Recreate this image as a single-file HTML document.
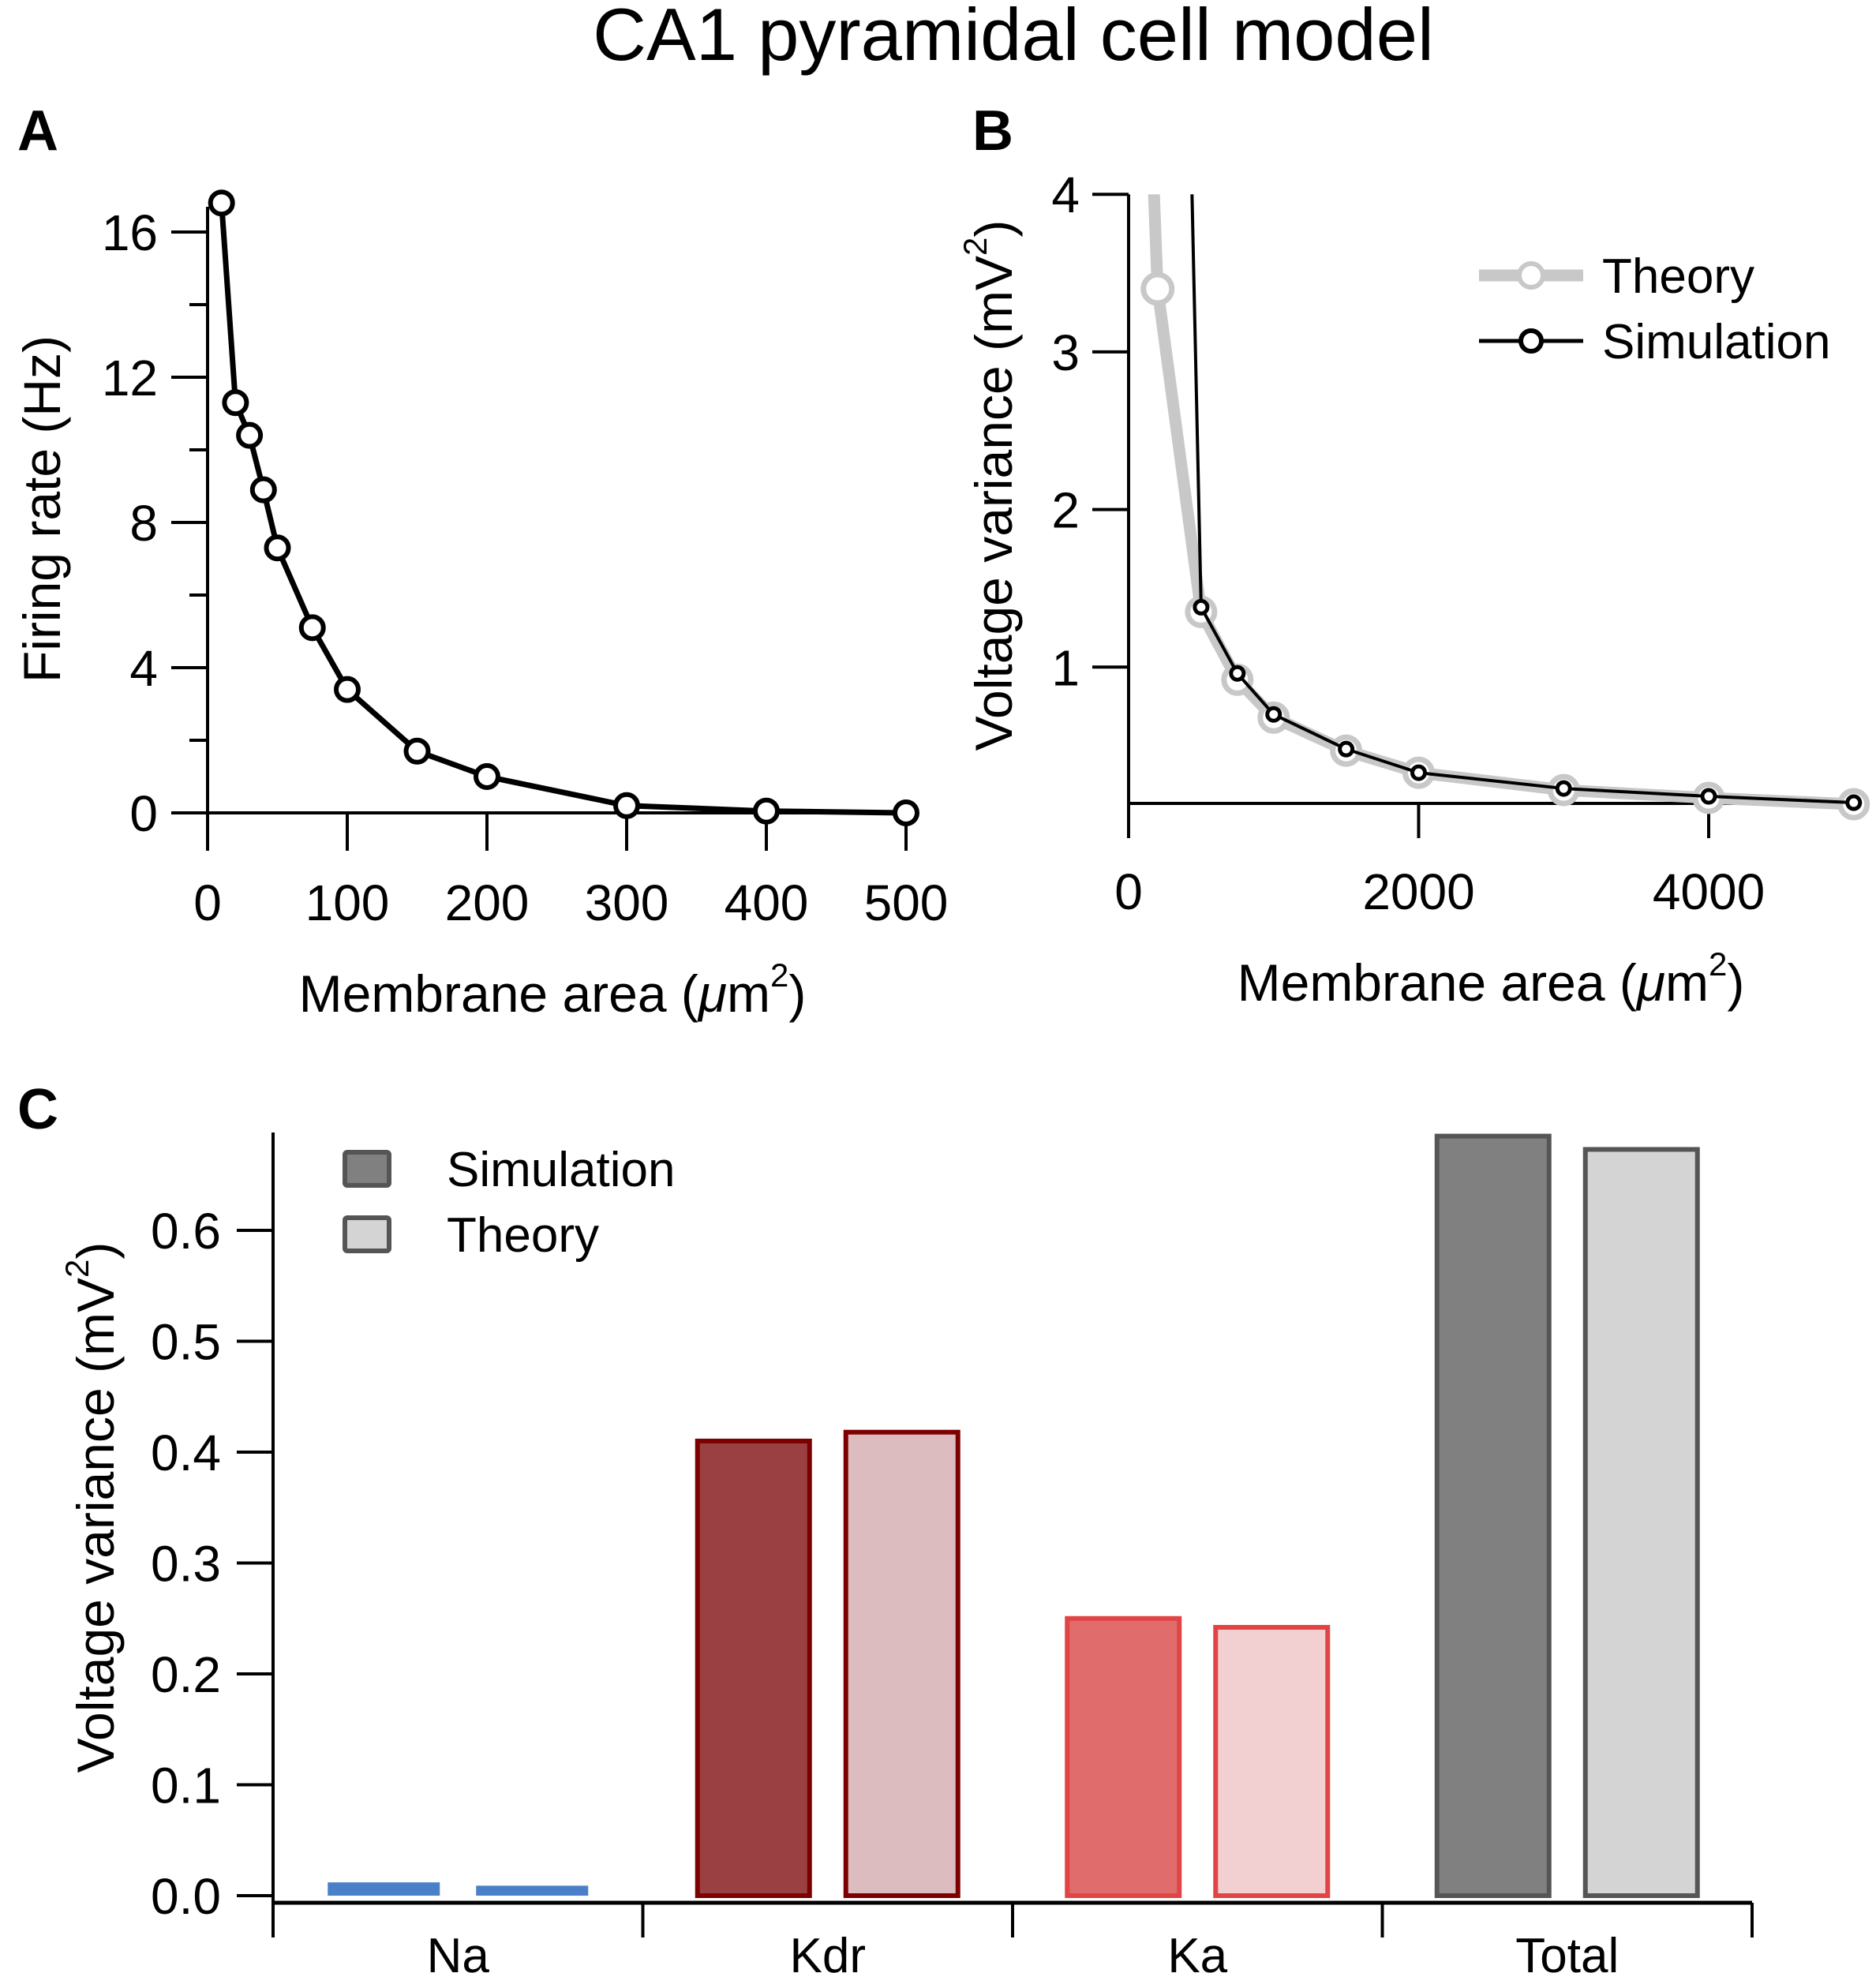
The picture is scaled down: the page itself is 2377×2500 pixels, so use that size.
<!DOCTYPE html>
<html><head><meta charset="utf-8"><style>
html,body{margin:0;padding:0;background:#fff;}
svg{display:block;font-family:"Liberation Sans",sans-serif;}
</style></head><body>
<svg id="fig" width="2377" height="2500" viewBox="0 0 2377 2500">
<text x="1284" y="76" font-size="94" text-anchor="middle">CA1 pyramidal cell model</text>
<text x="22" y="190" font-size="72" font-weight="bold">A</text>
<text x="1232" y="190" font-size="72" font-weight="bold">B</text>
<text x="22" y="1430" font-size="72" font-weight="bold">C</text>
<g id="pa"></g>
<g id="pb"></g>
<g id="pc"></g>
</svg>
<script>
// Panel A data
const aX = [10,20,30,40,50,75,100,150,200,300,400,500];
const aY = [16.8,11.3,10.4,8.9,7.3,5.1,3.4,1.7,1.0,0.2,0.05,0.0];
const aXTicks = [0,100,200,300,400,500];
const aYTicks = [0,4,8,12,16];
const aYMinor = [2,6,10,14];
// Panel B data
const bTheoryX = [150,200,500,750,1000,1500,2000,3000,4000,5000];
const bTheoryY = [4.6,3.4,1.35,0.92,0.68,0.47,0.33,0.22,0.17,0.13];
const bSimX = [430,500,750,1000,1500,2000,3000,4000,5000];
const bSimY = [4.3,1.38,0.96,0.70,0.48,0.33,0.23,0.18,0.14];
const bXTicks = [0,2000,4000];
const bYTicks = [1,2,3,4];
// Panel C data
const cCats = ["Na","Kdr","Ka","Total"];
const cSim = [0.012,0.41,0.25,0.685];
const cTheory = [0.009,0.418,0.242,0.673];
const cYTicks = [0.0,0.1,0.2,0.3,0.4,0.5,0.6];
const cYTickLabels = ["0.0","0.1","0.2","0.3","0.4","0.5","0.6"];

const NS="http://www.w3.org/2000/svg";
const TF=64, AF=66;
function mk(parent,tag,attrs,text){const e=document.createElementNS(NS,tag);for(const k in attrs)e.setAttribute(k,attrs[k]);if(text!==undefined)e.textContent=text;parent.appendChild(e);return e;}

// ---- Panel A ----
(function(){
const g=document.getElementById('pa');
const xs=v=>263+v*(1148-263)/500, ys=v=>1030-v*(1030-294)/16;
let e;
e=mk(g,'line',{x1:263,y1:262,x2:263,y2:1078,stroke:'#000','stroke-width':4});


e=mk(g,'line',{x1:217,y1:ys(0),x2:1148,y2:ys(0),stroke:'#000','stroke-width':4});


aYTicks.forEach(v=>{
 e=mk(g,'line',{x1:217,y1:ys(v),x2:263,y2:ys(v),stroke:'#000','stroke-width':4});
 
 
 e=mk(g,'text',{x:200,y:ys(v)+23,'font-size':TF,'text-anchor':'end'},String(v));
 
 
});
aYMinor.forEach(v=>{
 e=mk(g,'line',{x1:240,y1:ys(v),x2:263,y2:ys(v),stroke:'#000','stroke-width':4});
 
 
});
aXTicks.forEach(v=>{
 e=mk(g,'line',{x1:xs(v),y1:ys(0),x2:xs(v),y2:1078,stroke:'#000','stroke-width':4});
 
 
 e=mk(g,'text',{x:xs(v),y:1166,'font-size':TF,'text-anchor':'middle'},String(v));
 
 
});
e=mk(g,'text',{x:700,y:1282,'font-size':AF,'text-anchor':'middle'});
e.innerHTML='Membrane area (<tspan font-style="italic">μ</tspan>m<tspan dy="-32" font-size="42">2</tspan><tspan dy="32">)</tspan>';


e=mk(g,'text',{x:0,y:0,'font-size':AF,'text-anchor':'middle',transform:'translate(76,645) rotate(-90)'},'Firing rate (Hz)');


e=mk(g,'polyline',{points:aX.map((x,i)=>xs(x)+','+ys(aY[i])).join(' '),fill:'none',stroke:'#000','stroke-width':7,'stroke-linejoin':'round'});


aX.forEach((x,i)=>{
 e=mk(g,'circle',{cx:xs(x),cy:ys(aY[i]),r:14,fill:'#fff',stroke:'#000','stroke-width':6});
 
 
});
})();

// ---- Panel B ----
(function(){
const g=document.getElementById('pb');
const xs=v=>1430+v*(2165-1430)/4000, ys=v=>1045-v*199.7;
let e;
mk(g,'clipPath',{id:'bclip'}).appendChild(document.createElementNS(NS,'rect'));
const r=document.querySelector('#bclip rect');r.setAttribute('x',1380);r.setAttribute('y',ys(4));r.setAttribute('width',1000);r.setAttribute('height',900);
e=mk(g,'line',{x1:1430,y1:ys(4),x2:1430,y2:1062,stroke:'#000','stroke-width':4});


e=mk(g,'line',{x1:1430,y1:1018,x2:2348,y2:1018,stroke:'#000','stroke-width':4});


bYTicks.forEach(v=>{
 e=mk(g,'line',{x1:1384,y1:ys(v),x2:1430,y2:ys(v),stroke:'#000','stroke-width':4});
 
 
 e=mk(g,'text',{x:1368,y:ys(v)+23,'font-size':TF,'text-anchor':'end'},String(v));
 
 
});
bXTicks.forEach(v=>{
 e=mk(g,'line',{x1:xs(v),y1:1018,x2:xs(v),y2:1062,stroke:'#000','stroke-width':4});
 
 
 e=mk(g,'text',{x:xs(v),y:1152,'font-size':TF,'text-anchor':'middle'},String(v));
 
 
});
e=mk(g,'text',{x:1889,y:1268,'font-size':AF,'text-anchor':'middle'});
e.innerHTML='Membrane area (<tspan font-style="italic">μ</tspan>m<tspan dy="-32" font-size="42">2</tspan><tspan dy="32">)</tspan>';


e=mk(g,'text',{x:0,y:0,'font-size':AF,'text-anchor':'middle',transform:'translate(1282,615) rotate(-90)'});
e.innerHTML='Voltage variance (mV<tspan dy="-32" font-size="42">2</tspan><tspan dy="32">)</tspan>';


e=mk(g,'polyline',{points:bTheoryX.map((x,i)=>xs(x)+','+ys(bTheoryY[i])).join(' '),fill:'none',stroke:'#c8c8c8','stroke-width':15,'stroke-linejoin':'round','clip-path':'url(#bclip)'});


bTheoryX.forEach((x,i)=>{
 if(bTheoryY[i]>4) return;
 e=mk(g,'circle',{cx:xs(x),cy:ys(bTheoryY[i]),r:i===1?18:17,fill:'#fff',stroke:'#c8c8c8','stroke-width':7});
 
 
});
e=mk(g,'polyline',{points:bSimX.map((x,i)=>xs(x)+','+ys(bSimY[i])).join(' '),fill:'none',stroke:'#000','stroke-width':4,'stroke-linejoin':'round','clip-path':'url(#bclip)'});


bSimX.forEach((x,i)=>{
 if(bSimY[i]>4) return;
 e=mk(g,'circle',{cx:xs(x),cy:ys(bSimY[i]),r:8,fill:'#fff',stroke:'#000','stroke-width':5});
 
 
});
// legend
e=mk(g,'line',{x1:1874,y1:349,x2:2006,y2:349,stroke:'#c8c8c8','stroke-width':15});


e=mk(g,'circle',{cx:1940,cy:349,r:15,fill:'#fff',stroke:'#c8c8c8','stroke-width':6});


e=mk(g,'text',{x:2030,y:371,'font-size':62},'Theory');


e=mk(g,'line',{x1:1874,y1:432,x2:2006,y2:432,stroke:'#000','stroke-width':5});


e=mk(g,'circle',{cx:1940,cy:432,r:13,fill:'#fff',stroke:'#000','stroke-width':6});


e=mk(g,'text',{x:2030,y:454,'font-size':62},'Simulation');


})();

// ---- Panel C ----
(function(){
const g=document.getElementById('pc');
const ys=v=>2402-v*1405;
const groupW=468.5, x0=346, barW=142, off=94;
const simFill=['#4a80c8','#9b4042','#e06c6c','#808080'];
const simStroke=['none','#7d0000','#e04444','#555555'];
const thFill=['#4a80c8','#dcbcbf','#f2cfd0','#d4d4d4'];
const thStroke=['none','#7d0000','#e04444','#555555'];
let e;
e=mk(g,'line',{x1:346,y1:1435,x2:346,y2:2455,stroke:'#000','stroke-width':4});


cYTicks.forEach((v,i)=>{
 e=mk(g,'line',{x1:300,y1:ys(v),x2:346,y2:ys(v),stroke:'#000','stroke-width':4});
 
 
 e=mk(g,'text',{x:280,y:ys(v)+23,'font-size':TF,'text-anchor':'end'},cYTickLabels[i]);
 
 
});
e=mk(g,'text',{x:0,y:0,'font-size':AF,'text-anchor':'middle',transform:'translate(144,1910) rotate(-90)'});
e.innerHTML='Voltage variance (mV<tspan dy="-32" font-size="42">2</tspan><tspan dy="32">)</tspan>';


cCats.forEach((c,i)=>{
 const cx=x0+groupW*(i+0.5);
 const sw=simStroke[i]==='none'?0:6;
 e=mk(g,'rect',{x:cx-off-barW/2,y:ys(cSim[i]),width:barW,height:ys(0)-ys(cSim[i]),fill:simFill[i],stroke:simStroke[i],'stroke-width':sw});
 
 
 e=mk(g,'rect',{x:cx+off-barW/2,y:ys(cTheory[i]),width:barW,height:ys(0)-ys(cTheory[i]),fill:thFill[i],stroke:thStroke[i],'stroke-width':sw});
 
 
 e=mk(g,'text',{x:cx,y:2499,'font-size':62,'text-anchor':'middle'},c);
 
 
});
for(let i=0;i<=cCats.length;i++){
 e=mk(g,'line',{x1:x0+groupW*i,y1:2411,x2:x0+groupW*i,y2:2455,stroke:'#000','stroke-width':4});
 
 
}
e=mk(g,'line',{x1:346,y1:2411,x2:x0+groupW*4,y2:2411,stroke:'#000','stroke-width':5});


// legend
e=mk(g,'rect',{x:437,y:1460,width:56,height:42,fill:'#808080',stroke:'#555','stroke-width':6,rx:3});


e=mk(g,'text',{x:566,y:1503,'font-size':62},'Simulation');


e=mk(g,'rect',{x:437,y:1543,width:56,height:42,fill:'#d4d4d4',stroke:'#555','stroke-width':6,rx:3});


e=mk(g,'text',{x:566,y:1586,'font-size':62},'Theory');


})();
</script>
</body></html>
